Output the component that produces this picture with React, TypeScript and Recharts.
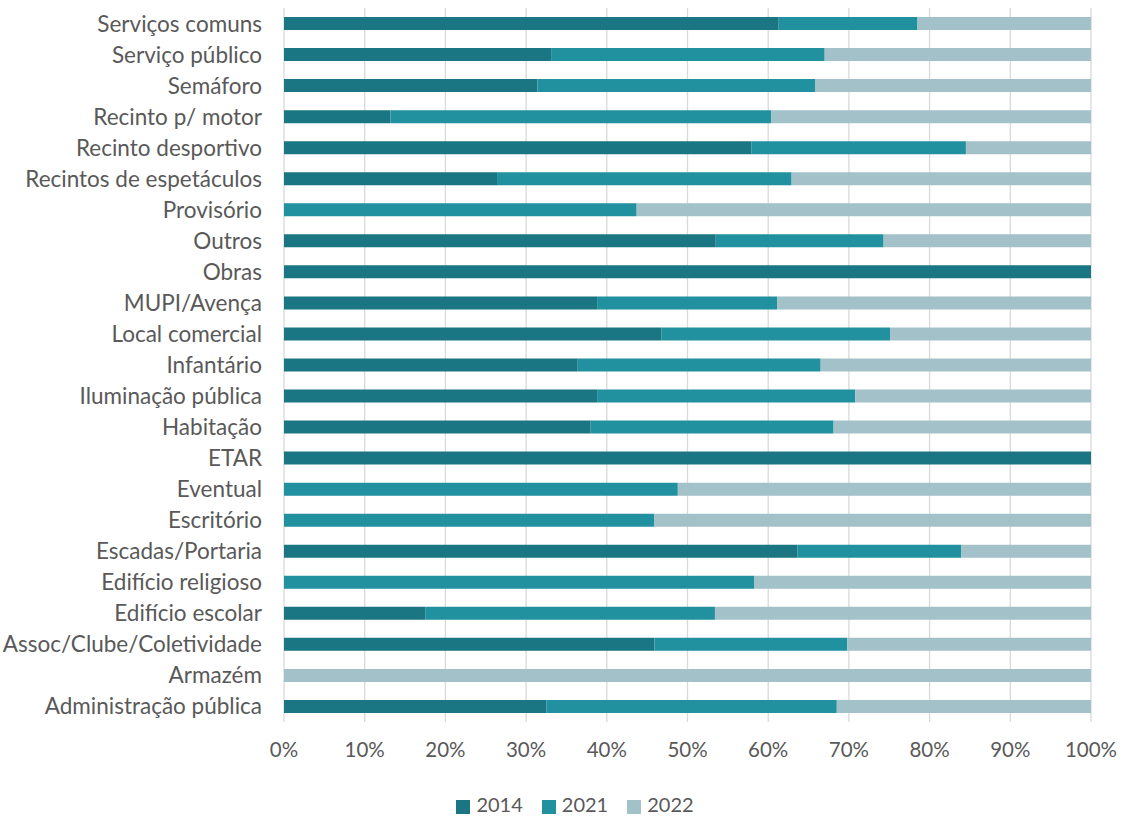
import { BarChart, Bar, XAxis, YAxis, CartesianGrid, Legend } from "recharts";

const categories = [
  "Serviços comuns",
  "Serviço público",
  "Semáforo",
  "Recinto p/ motor",
  "Recinto desportivo",
  "Recintos de espetáculos",
  "Provisório",
  "Outros",
  "Obras",
  "MUPI/Avença",
  "Local comercial",
  "Infantário",
  "Iluminação pública",
  "Habitação",
  "ETAR",
  "Eventual",
  "Escritório",
  "Escadas/Portaria",
  "Edifício religioso",
  "Edifício escolar",
  "Assoc/Clube/Coletividade",
  "Armazém",
  "Administração pública",
];

const v2014 = [61.3, 33.1, 31.4, 13.2, 57.9, 26.4, 0, 53.5, 100, 38.8, 46.8, 36.4, 38.8, 38.0, 100, 0, 0, 63.6, 0, 17.5, 45.9, 0, 32.5];
const v2021 = [17.2, 33.9, 34.4, 47.2, 26.6, 36.5, 43.7, 20.8, 0, 22.3, 28.3, 30.1, 32.0, 30.1, 0, 48.8, 45.9, 20.3, 58.3, 35.9, 23.9, 0, 36.0];
const v2022 = [21.5, 33.0, 34.2, 39.6, 15.5, 37.1, 56.3, 25.7, 0, 38.9, 24.9, 33.5, 29.2, 31.9, 0, 51.2, 54.1, 16.1, 41.7, 46.6, 30.2, 100, 31.5];

const xTicks = [0, 0.1, 0.2, 0.3, 0.4, 0.5, 0.6, 0.7, 0.8, 0.9, 1];

const data = categories.map((name, i) => ({
  name,
  y2014: v2014[i],
  y2021: v2021[i],
  y2022: v2022[i],
}));

const textColor = "#595959";

export default function App() {
  return (
    <div style={{ position: "absolute", left: 0, top: 0, fontFamily: "Lato, sans-serif" }}>
      <BarChart
        width={1125}
        height={818}
        data={data}
        layout="vertical"
        stackOffset="expand"
        margin={{ top: 8, right: 34, left: 0, bottom: 2 }}
      >
        <CartesianGrid horizontal={false} stroke="#d9d9d9" strokeWidth={1.3} />
        <XAxis
          type="number"
          domain={[0, 1]}
          ticks={xTicks}
          tickFormatter={(v: number) => `${Math.round(v * 100)}%`}
          axisLine={false}
          tickLine={false}
          tickSize={0}
          tickMargin={20}
          height={70}
          tick={{ fill: textColor, fontSize: 20.5 }}
        />
        <YAxis
          type="category"
          dataKey="name"
          width={284}
          axisLine={false}
          tickLine={false}
          tickSize={0}
          tickMargin={22}
          interval={0}
          tick={{ fill: textColor, fontSize: 22.5 }}
        />
        <Legend
          verticalAlign="bottom"
          iconType="square"
          iconSize={14}
          wrapperStyle={{ left: 40, width: 1089, fontSize: 20 }}
          formatter={(value: string) => (
            <span style={{ color: textColor, marginLeft: 2, marginRight: 9 }}>{value}</span>
          )}
        />
        <Bar dataKey="y2014" name="2014" stackId="a" fill="#1a7682" barSize={13} isAnimationActive={false} />
        <Bar dataKey="y2021" name="2021" stackId="a" fill="#21919f" barSize={13} isAnimationActive={false} />
        <Bar dataKey="y2022" name="2022" stackId="a" fill="#a3c1c8" barSize={13} isAnimationActive={false} />
      </BarChart>
    </div>
  );
}
